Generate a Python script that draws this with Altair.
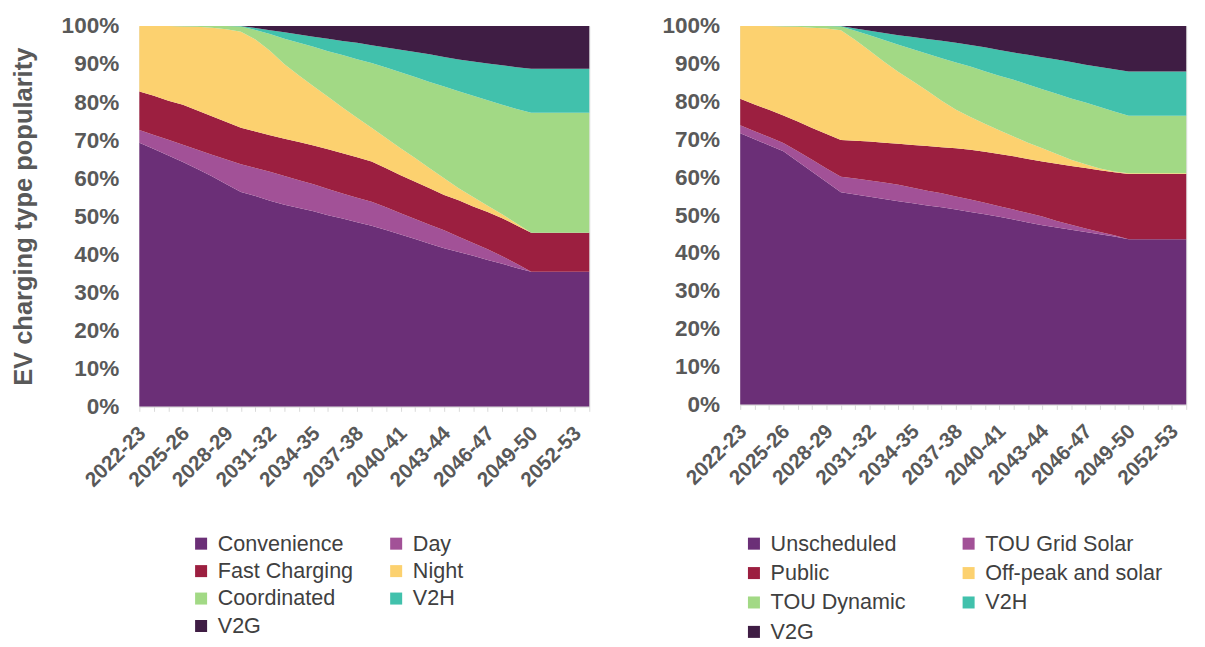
import altair as alt
import pandas as pd

years = ["2022-23", "2023-24", "2024-25", "2025-26", "2026-27", "2027-28", "2028-29", "2029-30",
         "2030-31", "2031-32", "2032-33", "2033-34", "2034-35", "2035-36", "2036-37", "2037-38",
         "2038-39", "2039-40", "2040-41", "2041-42", "2042-43", "2043-44", "2044-45", "2045-46",
         "2046-47", "2047-48", "2048-49", "2049-50", "2050-51", "2051-52", "2052-53", "2053-54"]

# ---- left panel (shares, %) ----
left_names = ["Convenience", "Day", "Fast Charging", "Night", "Coordinated", "V2H", "V2G"]
convenience = [69.3, 67.7, 66.0, 64.3, 62.4, 60.5, 58.4, 56.4, 55.3, 54.1, 53.0, 52.2, 51.3, 50.3, 49.4, 48.4,
               47.5, 46.4, 45.2, 44.0, 42.8, 41.6, 40.6, 39.6, 38.5, 37.5, 36.4, 35.4, 35.4, 35.4, 35.4, 35.4]
day = [3.4, 3.7, 4.1, 4.5, 5.1, 5.7, 6.5, 7.3, 7.4, 7.6, 7.6, 7.3, 7.1, 6.9, 6.6, 6.5,
       6.3, 6.0, 5.6, 5.3, 5.0, 4.7, 4.0, 3.4, 2.8, 2.0, 1.1, 0.0, 0.0, 0.0, 0.0, 0.0]
fast_charging = [10.1, 10.3, 10.3, 10.5, 10.3, 10.1, 9.9, 9.6, 9.6, 9.6, 9.8, 10.0, 10.2, 10.4, 10.6, 10.6,
                 10.6, 10.2, 10.0, 9.8, 9.6, 9.3, 9.6, 9.6, 9.8, 10.0, 10.1, 10.3, 10.3, 10.3, 10.3, 10.3]
night = [17.2, 18.3, 19.6, 20.6, 22.0, 23.3, 24.4, 25.2, 24.2, 22.2, 19.6, 17.5, 15.6, 13.8, 12.0, 10.4,
         8.9, 8.0, 7.1, 6.2, 5.2, 4.4, 3.2, 2.5, 1.7, 1.0, 0.5, 0.0, 0.0, 0.0, 0.0, 0.0]
coordinated = [0.0, 0.0, 0.0, 0.1, 0.2, 0.4, 0.8, 1.4, 2.5, 4.4, 6.7, 8.6, 10.4, 12.0, 13.8, 15.4,
               17.0, 18.5, 20.0, 21.3, 22.7, 24.1, 25.5, 26.6, 27.7, 28.8, 30.1, 31.5, 31.5, 31.5, 31.5, 31.5]
v2h_left = [0.0, 0.0, 0.0, 0.0, 0.0, 0.0, 0.0, 0.1, 0.5, 1.0, 1.7, 2.2, 2.6, 3.3, 3.7, 4.3,
            4.7, 5.3, 5.9, 6.6, 7.3, 7.8, 8.3, 9.0, 9.7, 10.4, 11.0, 11.6, 11.6, 11.6, 11.6, 11.6]
v2g_left = [0.0, 0.0, 0.0, 0.0, 0.0, 0.0, 0.0, 0.0, 0.5, 1.1, 1.6, 2.2, 2.8, 3.3, 3.9, 4.4,
            5.0, 5.6, 6.2, 6.8, 7.4, 8.1, 8.8, 9.3, 9.8, 10.3, 10.8, 11.2, 11.2, 11.2, 11.2, 11.2]

# ---- right panel (shares, %) ----
right_names = ["Unscheduled", "TOU Grid Solar", "Public", "Off-peak and solar", "TOU Dynamic", "V2H", "V2G"]
unscheduled = [71.7, 70.1, 68.5, 66.9, 64.2, 61.5, 58.8, 56.1, 55.5, 54.9, 54.3, 53.7, 53.2, 52.6, 52.1, 51.5,
               50.9, 50.3, 49.6, 48.9, 48.1, 47.4, 46.8, 46.2, 45.6, 45.0, 44.4, 43.7, 43.7, 43.7, 43.7, 43.7]
tou_grid_solar = [2.1, 2.1, 2.2, 2.2, 2.7, 3.2, 3.6, 4.1, 4.2, 4.3, 4.4, 4.4, 4.1, 3.9, 3.7, 3.5,
                  3.3, 3.0, 2.8, 2.6, 2.5, 2.3, 1.7, 1.3, 0.9, 0.6, 0.3, 0.0, 0.0, 0.0, 0.0, 0.0]
public = [7.0, 7.1, 7.2, 7.3, 7.9, 8.4, 9.1, 9.7, 10.0, 10.3, 10.5, 10.8, 11.3, 11.8, 12.2, 12.7,
          13.1, 13.5, 13.8, 14.1, 14.3, 14.5, 15.1, 15.5, 16.0, 16.3, 16.7, 17.2, 17.2, 17.2, 17.2, 17.2]
offpeak_solar = [19.2, 20.7, 22.1, 23.5, 25.0, 26.5, 27.9, 29.0, 26.6, 24.0, 21.4, 19.0, 16.8, 14.6, 12.3, 10.2,
                 8.7, 7.4, 6.3, 5.2, 4.3, 3.5, 2.6, 1.7, 1.0, 0.5, 0.2, 0.2, 0.2, 0.2, 0.2, 0.2]
tou_dynamic = [0.0, 0.0, 0.0, 0.1, 0.2, 0.4, 0.6, 1.0, 2.5, 4.1, 5.7, 7.2, 8.5, 9.8, 11.2, 12.5,
               13.3, 13.9, 14.4, 15.0, 15.4, 15.6, 15.9, 16.2, 16.3, 16.2, 15.8, 15.2, 15.2, 15.2, 15.2, 15.2]
v2h_right = [0.0, 0.0, 0.0, 0.0, 0.0, 0.0, 0.0, 0.1, 0.6, 1.2, 1.9, 2.5, 3.2, 3.9, 4.6, 5.2,
             5.7, 6.3, 6.8, 7.2, 7.8, 8.5, 9.1, 9.6, 10.0, 10.6, 11.2, 11.7, 11.7, 11.7, 11.7, 11.7]
v2g_right = [0.0, 0.0, 0.0, 0.0, 0.0, 0.0, 0.0, 0.0, 0.6, 1.2, 1.8, 2.4, 2.9, 3.4, 3.9, 4.4,
             5.0, 5.6, 6.3, 7.0, 7.6, 8.2, 8.8, 9.5, 10.2, 10.8, 11.4, 12.0, 12.0, 12.0, 12.0, 12.0]

colors = ["#6B2F77", "#A25197", "#9C1F40", "#FCD16F", "#A2D985", "#41C1AC", "#3F1D44"]

# legend fills column by column: this order gives the reference's row-by-row look
legend_slots = [0, 2, 4, 6, 1, 3, 5]


def make_df(names, series):
    rows = []
    for k, (name, vals) in enumerate(zip(names, series)):
        for i, v in enumerate(vals):
            rows.append({"idx": i, "year": years[i], "series": name, "order": k, "value": v})
    return pd.DataFrame(rows)


left_df = make_df(left_names, [convenience, day, fast_charging, night, coordinated, v2h_left, v2g_left])
right_df = make_df(right_names, [unscheduled, tou_grid_solar, public, offpeak_solar, tou_dynamic, v2h_right, v2g_right])

label_array = "[" + ",".join("'" + y + "'" for y in years) + "]"
x_label_expr = "datum.value % 3 == 0 ? " + label_array + "[datum.value] : ''"

GREY = "#595959"


def panel(df, names, title, lx, ly, col_pad, row_pad, width, height):
    x = alt.X("idx:Q",
              scale=alt.Scale(domain=[0, len(years) - 1], nice=False, zero=False),
              axis=alt.Axis(values=list(range(len(years))), labelExpr=x_label_expr,
                            labelAngle=-45, labelAlign="right", labelBaseline="middle",
                            labelFontSize=21, labelFontWeight="bold", labelColor=GREY,
                            labelPadding=19, labelOffset=3, labelOverlap=False, labelFlush=False,
                            tickSize=5, tickColor="#D9D9D9", domainColor="#D9D9D9",
                            grid=False, title=None))
    yaxis = dict(values=list(range(0, 101, 10)), labelExpr="datum.value + '%'",
                 labelFontSize=23, labelFontWeight="bold", labelColor=GREY,
                 labelPadding=21, ticks=False, domain=False, grid=False)
    if title:
        yaxis.update(title=title, titleFontSize=26, titleFontWeight="bold", titleColor=GREY,
                     titlePadding=25)
    else:
        yaxis.update(title=None)
    y = alt.Y("value:Q", stack="zero", scale=alt.Scale(domain=[0, 100], nice=False),
              axis=alt.Axis(**yaxis))
    legend_domain = [names[s] for s in legend_slots]
    legend_range = [colors[s] for s in legend_slots]
    color = alt.Color("series:N", scale=alt.Scale(domain=legend_domain, range=legend_range),
                      legend=alt.Legend(orient="none", legendX=lx, legendY=ly, columns=2,
                                        symbolType="square", symbolSize=150, symbolStrokeWidth=0,
                                        labelFontSize=22, labelColor="#404040", labelLimit=0,
                                        labelOffset=6, rowPadding=row_pad, columnPadding=col_pad,
                                        title=None))
    return alt.Chart(df).mark_area(interpolate="linear").encode(
        x=x, y=y, color=color, order=alt.Order("order:Q", sort="ascending")
    ).properties(width=width, height=height)


left = panel(left_df, left_names, "EV charging type popularity", 52, 517, 32, 6, 459, 388)
right = panel(right_df, right_names, None, 3, 517, 53, 8, 455, 386)

chart = alt.hconcat(left, right, spacing=62).resolve_scale(color="independent").properties(
    padding={"left": 2, "top": 0, "right": 0, "bottom": 0}
).configure(font="Liberation Sans").configure_view(stroke="#D9D9D9", strokeWidth=1)

chart.save("out.html", embed_options={"renderer": "svg", "actions": False})
